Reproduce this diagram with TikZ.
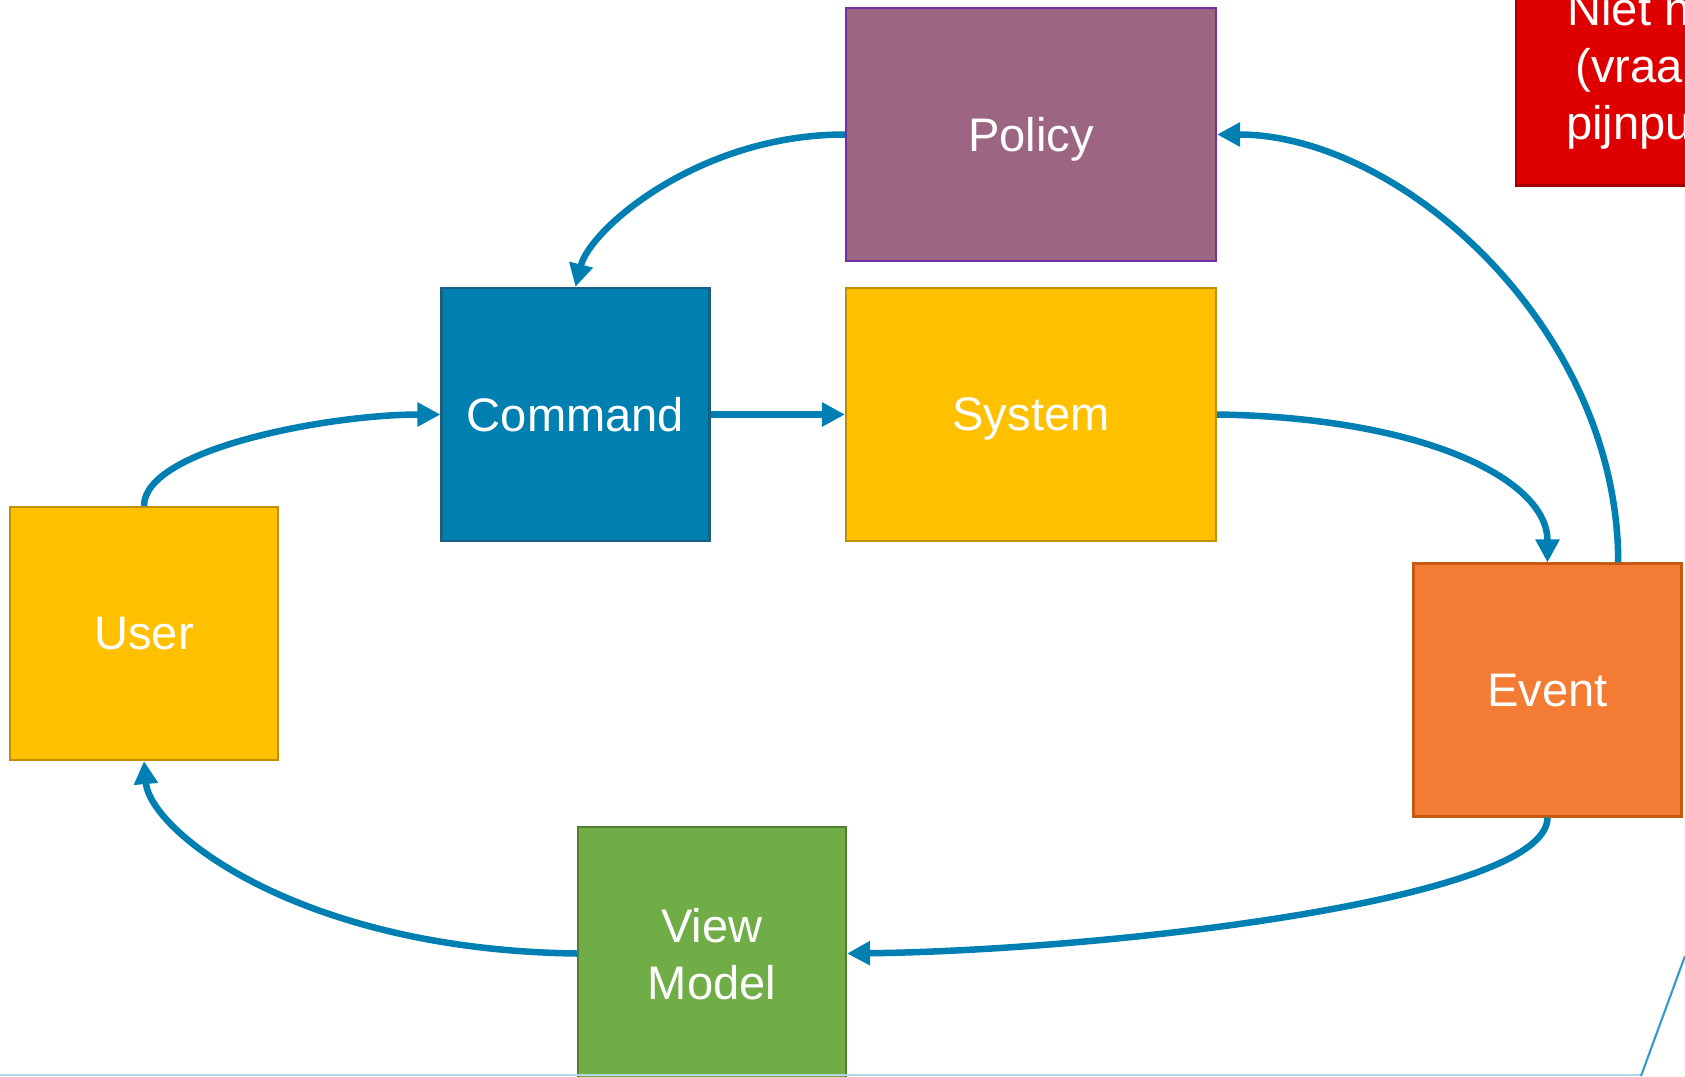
\documentclass[tikz,border=0pt]{standalone}
\usepackage{fontspec}
\setmainfont{Liberation Sans}
\usepackage{xcolor}
\usepackage{tikz}
\usetikzlibrary{shapes.geometric, arrows.meta}
\definecolor{policyfill}{HTML}{9C6683}
\definecolor{policydraw}{HTML}{7030A0}
\definecolor{commandfill}{HTML}{007FB1}
\definecolor{commanddraw}{HTML}{17607F}
\definecolor{systemfill}{HTML}{FFC000}
\definecolor{systemdraw}{HTML}{BF9000}
\definecolor{eventfill}{HTML}{F47B33}
\definecolor{eventdraw}{HTML}{C55A11}
\definecolor{viewfill}{HTML}{70AD47}
\definecolor{viewdraw}{HTML}{507E32}
\definecolor{hotspotfill}{HTML}{DE0000}
\definecolor{hotspotdraw}{HTML}{A50000}
\definecolor{flow}{HTML}{0080B2}
\definecolor{slideline}{HTML}{B4D7E5}
\definecolor{slideedge}{HTML}{3399CC}
\tikzstyle{sticky} = [
    rectangle,
    minimum width=2.68cm, minimum height=2.53cm,
    text centered, align=center,
    text=white, text depth=0pt, line width=0.6pt,
    font=\fontsize{13.4}{16.2}\selectfont]
\tikzstyle{commandbox} = [sticky, draw=commanddraw, fill=commandfill]
\tikzstyle{systembox} = [sticky, minimum width=3.7cm, draw=systemdraw, fill=systemfill]
\tikzstyle{policybox} = [sticky, minimum width=3.7cm, draw=policydraw, fill=policyfill]
\tikzstyle{userbox} = [sticky, draw=systemdraw, fill=systemfill]
\tikzstyle{eventbox} = [sticky, draw=eventdraw, fill=eventfill]
\tikzstyle{viewbox} = [sticky, draw=viewdraw, fill=viewfill]
\tikzstyle{hotspotbox} = [sticky, minimum width=2.26cm, minimum height=2.41cm, draw=hotspotdraw, fill=hotspotfill]
\tikzstyle{arrow} = [line width=0.065cm, draw=flow, -{Triangle[length=2.3mm, width=2.3mm]}]

\begin{document}
\begin{tikzpicture}[node distance=2.8cm]
        \useasboundingbox (0,0) rectangle (16.85,-10.76);
        \clip (0,0) rectangle (16.85,-10.76);

        \node (command) [commandbox] at (5.755,-4.145) {Command};
        \node (system) [systembox, right of=command, xshift=1.755cm] {System};
        \node (policy) [policybox, above of=system] {Policy};

        \node (user) [userbox, left of=command, xshift=-1.515cm, yshift=-2.19cm] {User};
        \node (event) [eventbox, right of=system, xshift=2.365cm, yshift=-2.755cm] {Event};
        \node (view) [viewbox, below of=command, xshift=1.365cm, yshift=-2.59cm] {View\\Model};

        \node (hotspot) [hotspotbox, right of=policy, xshift=3.18cm, yshift=0.695cm] {Niet n\\(vraa\\pijnpu};

        \draw [arrow] (policy.west) .. controls +(-1.46,0) and +(0.145,0.58) .. (command.north);
        \draw [arrow] (command.east) -- (system.west);
        \draw [arrow] (system.east) .. controls +(2.04,-0.03) and +(0,0.84) .. (event.north);
        \draw [arrow] (event.61) .. controls +(0,2.34) and +(1.84,0) .. (policy.east);
        \draw [arrow] (event.south) .. controls +(0,-0.83) and +(2.54,0.03) .. (view.east);
        \draw [arrow] (view.west) .. controls +(-2.78,0.035) and +(0.06,-0.7) .. (user.south);
        \draw [arrow] (user.north) .. controls +(0,0.57) and +(-1.12,0) .. (command.west);

        \draw [slideline, line width=0.6pt] (0,-10.75) -- (16.41,-10.75);
        \draw [slideedge, line width=0.6pt] (16.41,-10.76) -- (16.85,-9.56);
    \end{tikzpicture}
\end{document}
